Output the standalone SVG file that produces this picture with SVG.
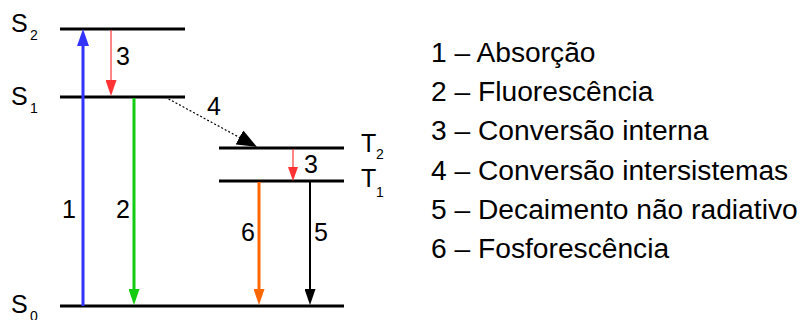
<svg xmlns="http://www.w3.org/2000/svg" width="800" height="320" viewBox="0 0 800 320">
<style>
.lvl{stroke:#000;stroke-width:3;fill:none}
.lbl{font-family:"Liberation Sans",Arial,sans-serif;font-size:25px;fill:#000}
.sub{font-family:"Liberation Sans",Arial,sans-serif;font-size:14px;fill:#000}
.leg{font-family:"Liberation Sans",Arial,sans-serif;font-size:28.2px;fill:#000}
</style>
<defs>
<marker id="hBlue" markerUnits="userSpaceOnUse" viewBox="0 0 17 12" markerWidth="17" markerHeight="12" refX="7" refY="6" orient="auto"><path d="M0,0 L17,6 L0,12 z" fill="#3333ff"/></marker>
<marker id="hGreen" markerUnits="userSpaceOnUse" viewBox="0 0 16 11" markerWidth="16" markerHeight="11" refX="6" refY="5.5" orient="auto"><path d="M0,0 L16,5.5 L0,11 z" fill="#11cc11"/></marker>
<marker id="hRed" markerUnits="userSpaceOnUse" viewBox="0 0 16 11" markerWidth="16" markerHeight="11" refX="6" refY="5.5" orient="auto"><path d="M0,0 L16,5.5 L0,11 z" fill="#ff3333"/></marker>
<marker id="hRed2" markerUnits="userSpaceOnUse" viewBox="0 0 14 10" markerWidth="14" markerHeight="10" refX="4" refY="5" orient="auto"><path d="M0,0 L14,5 L0,10 z" fill="#ff3333"/></marker>
<marker id="hOrange" markerUnits="userSpaceOnUse" viewBox="0 0 16 11" markerWidth="16" markerHeight="11" refX="6" refY="5.5" orient="auto"><path d="M0,0 L16,5.5 L0,11 z" fill="#ff6600"/></marker>
<marker id="hBlack" markerUnits="userSpaceOnUse" viewBox="0 0 16 11" markerWidth="16" markerHeight="11" refX="6" refY="5.5" orient="auto"><path d="M0,0 L16,5.5 L0,11 z" fill="#000"/></marker>
<marker id="hBig" markerUnits="userSpaceOnUse" viewBox="0 0 20 16" markerWidth="20" markerHeight="16" refX="10" refY="8" orient="auto"><path d="M0,0 L20,8 L0,16 z" fill="#000"/></marker>
</defs>

<g id="S2">
<line class="lvl" x1="60" y1="29" x2="185" y2="29"/>
<text class="lbl" x="11" y="32">S</text><text class="sub" x="30" y="40">2</text>
</g>
<g id="S1">
<line class="lvl" x1="60" y1="97" x2="185" y2="97"/>
<text class="lbl" x="11" y="105">S</text><text class="sub" x="30" y="113">1</text>
</g>
<g id="S0">
<line class="lvl" x1="60" y1="306" x2="344" y2="306"/>
<text class="lbl" x="11" y="313">S</text><text class="sub" x="30" y="321">0</text>
</g>
<g id="T2">
<line class="lvl" x1="219" y1="148" x2="344" y2="148"/>
<text class="lbl" x="361" y="152">T</text><text class="sub" x="376" y="159">2</text>
</g>
<g id="T1">
<line class="lvl" x1="219" y1="181" x2="344" y2="181"/>
<text class="lbl" x="361" y="187">T</text><text class="sub" x="376" y="197">1</text>
</g>

<g id="connectors">
<line x1="83" y1="306" x2="83" y2="39" stroke="#3333ff" stroke-width="3" marker-end="url(#hBlue)"/>
<line x1="111" y1="30" x2="111" y2="86" stroke="#ff3333" stroke-width="1.2" marker-end="url(#hRed)"/>
<line x1="134" y1="98" x2="134" y2="295" stroke="#11cc11" stroke-width="3" marker-end="url(#hGreen)"/>
<line x1="165" y1="97" x2="248.2" y2="142.2" stroke="#000" stroke-width="1.2" stroke-dasharray="2,2" marker-end="url(#hBig)"/>
<line x1="293" y1="149" x2="293" y2="171" stroke="#ff3333" stroke-width="1.2" marker-end="url(#hRed2)"/>
<line x1="259" y1="182" x2="259" y2="295" stroke="#ff6600" stroke-width="3" marker-end="url(#hOrange)"/>
<line x1="310" y1="182" x2="310" y2="295" stroke="#000" stroke-width="2" marker-end="url(#hBlack)"/>
<text class="lbl" x="116" y="65">3</text>
<text class="lbl" x="207" y="115">4</text>
<text class="lbl" x="304" y="173">3</text>
<text class="lbl" x="62" y="218">1</text>
<text class="lbl" x="116" y="218">2</text>
<text class="lbl" x="241" y="241">6</text>
<text class="lbl" x="314" y="241">5</text>
</g>

<g id="legend">
<text class="leg" x="431" y="62">1 – Absorção</text>
<text class="leg" x="431" y="101.2">2 – Fluorescência</text>
<text class="leg" x="431" y="140.4">3 – Conversão interna</text>
<text class="leg" x="431" y="179.6">4 – Conversão intersistemas</text>
<text class="leg" x="431" y="218.8">5 – Decaimento não radiativo</text>
<text class="leg" x="431" y="258">6 – Fosforescência</text>
</g>
</svg>
